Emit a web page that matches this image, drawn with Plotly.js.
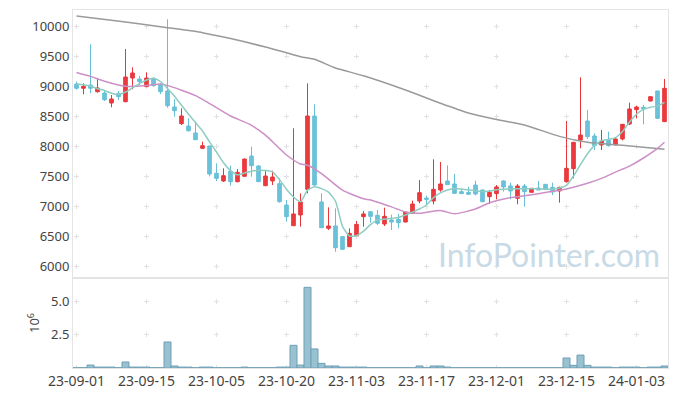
<!DOCTYPE html>
<html>
<head>
<meta charset="utf-8">
<script src="https://cdn.plot.ly/plotly-3.0.1.min.js"></script>
<style>html,body{margin:0;padding:0;background:#fff;}#chart{width:677px;height:396px;}</style>
</head>
<body>
<div id="chart"></div>
<script>
const dates = [
 '23-09-01','23-09-04','23-09-05','23-09-06','23-09-07','23-09-08','23-09-11','23-09-12','23-09-13','23-09-14',
 '23-09-15','23-09-18','23-09-19','23-09-20','23-09-21','23-09-22','23-09-25','23-09-26','23-09-27','23-10-04',
 '23-10-05','23-10-06','23-10-10','23-10-11','23-10-12','23-10-13','23-10-16','23-10-17','23-10-18','23-10-19',
 '23-10-20','23-10-23','23-10-24','23-10-25','23-10-26','23-10-27','23-10-30','23-10-31','23-11-01','23-11-02',
 '23-11-03','23-11-06','23-11-07','23-11-08','23-11-09','23-11-10','23-11-13','23-11-14','23-11-15','23-11-16',
 '23-11-17','23-11-20','23-11-21','23-11-22','23-11-23','23-11-24','23-11-27','23-11-28','23-11-29','23-11-30',
 '23-12-01','23-12-04','23-12-05','23-12-06','23-12-07','23-12-08','23-12-11','23-12-12','23-12-13','23-12-14',
 '23-12-15','23-12-18','23-12-19','23-12-20','23-12-21','23-12-22','23-12-26','23-12-27','23-12-28','24-01-02',
 '24-01-03','24-01-04','24-01-05','24-01-08','24-01-09'
];
const openP = [
 9033,8962,9017,8905,8883,8717,8872,8738,9133,9117,
 8989,9117,9017,8917,8650,8372,8333,8217,7961,8000,
 7545,7417,7583,7405,7495,7833,7667,7339,7417,7372,
 7017,6672,6850,7278,8500,7067,6628,6667,6489,6322,
 6505,6822,6905,6845,6700,6767,6778,6733,6878,7083,
 7133,7083,7267,7417,7367,7239,7228,7350,7267,7156,
 7206,7417,7333,7128,7333,7228,7300,7361,7311,7250,
 7405,7622,8100,8417,8167,8017,8094,8017,8117,8367,
 8606,8645,8750,8917,8406
];
const highP = [
 9072,9045,9695,9128,8917,8850,8917,9617,9312,9167,
 9228,9150,9050,10112,8783,8628,8461,8405,8072,8005,
 7711,7628,7672,7617,7790,7989,7680,7583,7589,7461,
 7100,8295,7211,9045,8695,7211,6978,6961,6495,6628,
 6750,6917,6910,6933,6972,6856,6867,6905,7089,7433,
 7172,7778,7733,7678,7533,7295,7322,7422,7272,7267,
 7350,7433,7389,7367,7367,7300,7417,7365,7389,7322,
 8417,8065,9145,8600,8211,8267,8239,8139,8361,8722,
 8672,8683,8822,8920,9117
];
const lowP = [
 8939,8862,8878,8889,8750,8645,8767,8730,8945,9005,
 8980,8989,8867,8638,8489,8350,8239,8100,7950,7495,
 7417,7400,7338,7395,7490,7489,7400,7330,7350,7055,
 6739,6667,6655,7211,7340,6630,6600,6239,6270,6320,
 6500,6655,6722,6683,6667,6600,6628,6728,6875,7045,
 7028,7028,7239,7350,7200,7200,7183,7178,7061,7033,
 7111,7239,7111,7028,6989,7225,7260,7275,7183,7055,
 7389,7461,7961,8117,7933,7933,7989,8015,8094,8350,
 8461,8361,8745,8450,8400
];
const closeP = [
 8962,8995,8962,8967,8772,8783,8822,9150,9217,9072,
 9133,9005,8905,8672,8589,8500,8255,8105,8005,7533,
 7461,7505,7405,7561,7783,7672,7405,7500,7483,7072,
 6822,6867,7067,8500,7350,6639,6667,6305,6278,6544,
 6694,6867,6828,6711,6828,6733,6722,6900,7033,7222,
 7111,7278,7367,7356,7211,7206,7195,7200,7072,7228,
 7317,7317,7250,7333,7239,7295,7267,7278,7233,7311,
 7628,8061,8183,8156,8006,8083,8006,8117,8361,8617,
 8650,8617,8822,8461,8961
];
// volume in millions of shares
const volume = [
 0.02,0.02,0.22,0.07,0.07,0.07,0.02,0.45,0.07,0.07,
 0.07,0.02,0.02,1.95,0.15,0.07,0.07,0.02,0.07,0.07,
 0.02,0.02,0.02,0.02,0.07,0.02,0.02,0.02,0.02,0.07,
 0.07,1.70,0.22,6.05,1.43,0.35,0.15,0.15,0.07,0.07,
 0.07,0.07,0.02,0.02,0.02,0.02,0.02,0.02,0.02,0.15,
 0.02,0.15,0.15,0.07,0.02,0.02,0.02,0.02,0.02,0.02,
 0.02,0.02,0.02,0.02,0.02,0.02,0.02,0.02,0.02,0.02,
 0.75,0.20,0.97,0.20,0.07,0.07,0.07,0.02,0.07,0.07,
 0.07,0.02,0.07,0.07,0.15
];
const ma5 = [
 9033,9020,9000,8955,8925,8880,8860,8900,8970,9040,
 9100,9130,9075,8960,8830,8680,8530,8390,8250,8070,
 7900,7720,7590,7520,7550,7580,7595,7590,7570,7440,
 7280,7150,7070,7265,7322,7290,7230,7080,6660,6500,
 6505,6580,6690,6765,6780,6795,6810,6850,6900,6950,
 7017,7140,7220,7267,7290,7280,7267,7255,7240,7250,
 7270,7280,7285,7289,7289,7289,7285,7280,7278,7300,
 7345,7500,7690,7870,8010,8090,8110,8140,8240,8400,
 8530,8610,8645,8665,8728
];
const ma20Idx = [0,2,4,7,10,12,13,15,17,18,21,22,25,27,30,32,33,35,38,41,42,45,47,49,52,54,57,59,62,64,67,70,73,75,77,79,81,83,84];
const ma20Val = [9225,9160,9080,8995,9008,9033,9010,8930,8840,8778,8570,8500,8345,8180,7850,7700,7680,7540,7265,7120,7100,6985,6900,6880,6925,6870,6950,7055,7140,7170,7225,7285,7378,7460,7565,7665,7800,7960,8062];
const ma120Idx = [0,7,13,18,22,27,32,34,37,41,47,52,56,60,64,69,73,78,84];
const ma120Val = [10167,10067,9972,9889,9790,9650,9489,9445,9300,9170,8933,8712,8550,8440,8350,8160,8061,8011,7945];
const tickIdx = [0,10,20,30,40,50,60,70,80];

const gridC = '#e2e2e2';
const lineC = '#e4e4e4';
const fontF = 'Noto Sans, Open Sans, sans-serif';
const txtC = '#444';

const traces = [
 {
  type: 'candlestick', x: dates, open: openP, high: highP, low: lowP, close: closeP,
  xaxis: 'x2', yaxis: 'y',
  increasing: {line: {color: '#e8363b', width: 1}, fillcolor: '#ec3a3f'},
  decreasing: {line: {color: '#66bfd7', width: 1}, fillcolor: '#6cc2d9'},
  hoverinfo: 'skip', showlegend: false
 },
 {
  type: 'scatter', mode: 'lines', x: ma120Idx.map(i => dates[i]), y: ma120Val,
  xaxis: 'x2', yaxis: 'y', line: {color: '#9a9a9a', width: 1.5, shape: 'spline', smoothing: 0.6},
  hoverinfo: 'skip', showlegend: false
 },
 {
  type: 'scatter', mode: 'lines', x: ma20Idx.map(i => dates[i]), y: ma20Val,
  xaxis: 'x2', yaxis: 'y', line: {color: '#cc8fc6', width: 1.5, shape: 'spline', smoothing: 0.6},
  hoverinfo: 'skip', showlegend: false
 },
 {
  type: 'scatter', mode: 'lines', x: dates, y: ma5,
  xaxis: 'x2', yaxis: 'y', line: {color: '#8ecdc2', width: 1.5, shape: 'spline', smoothing: 0.5},
  hoverinfo: 'skip', showlegend: false
 },
 {
  type: 'bar', x: dates, y: volume, xaxis: 'x', yaxis: 'y2',
  marker: {color: '#98c1d1', line: {color: '#6f9fb5', width: 1}},
  hoverinfo: 'skip', showlegend: false
 }
];

const mainDash = '0px,13.5px,5px,11.5px';
const volDash = '0px,20.83px,5px,7.5px';
const hDash = '0px,1px,5px,64px';

const layout = {
 width: 677, height: 396,
 margin: {l: 73, r: 9, t: 10, b: 28},
 paper_bgcolor: '#fff', plot_bgcolor: '#fff',
 bargap: 0, boxgap: 0.26,
 showlegend: false,
 font: {family: fontF, size: 13, color: txtC},
 xaxis: {
  type: 'category', categoryorder: 'array', categoryarray: dates,
  domain: [0, 1], anchor: 'y2', range: [-0.5, dates.length - 0.5],
  tickmode: 'array', tickvals: tickIdx.map(i => dates[i]), ticktext: tickIdx.map(i => dates[i]),
  showgrid: true, gridcolor: gridC, gridwidth: 1, griddash: volDash,
  showline: true, linecolor: lineC, mirror: true, ticks: '',
  tickfont: {family: fontF, size: 14, color: txtC},
  rangeslider: {visible: false}, fixedrange: true
 },
 xaxis2: {
  type: 'category', categoryorder: 'array', categoryarray: dates,
  domain: [0, 1], anchor: 'y', matches: 'x', range: [-0.5, dates.length - 0.5],
  tickmode: 'array', tickvals: tickIdx.map(i => dates[i]), showticklabels: false,
  showgrid: true, gridcolor: gridC, gridwidth: 1, griddash: mainDash,
  showline: true, linecolor: lineC, mirror: true, ticks: '',
  rangeslider: {visible: false}, fixedrange: true
 },
 yaxis: {
  domain: [0.2514, 1], anchor: 'x2', range: [5800, 10266.7],
  tick0: 0, dtick: 500, tickformat: 'd',
  showgrid: true, gridcolor: gridC, gridwidth: 1, griddash: hDash,
  zeroline: false, showline: true, linecolor: lineC, mirror: true, ticks: '',
  tickfont: {family: fontF, size: 13, color: txtC}, fixedrange: true
 },
 yaxis2: {
  domain: [0, 0.2514], anchor: 'x', range: [0, 6.75],
  tickmode: 'array', tickvals: [2.5, 5], ticktext: ['2.5', '5.0'],
  showgrid: true, gridcolor: gridC, gridwidth: 1, griddash: hDash,
  zeroline: false, showline: true, linecolor: lineC, mirror: true, ticks: '',
  tickfont: {family: fontF, size: 13, color: txtC},
  title: {text: '10<sup>6</sup>', font: {family: fontF, size: 13, color: txtC}, standoff: 8},
  fixedrange: true
 },
 annotations: [{
  text: 'InfoPointer.com', xref: 'paper', yref: 'paper',
  x: 0.99, y: 0.318, xanchor: 'right', yanchor: 'middle', showarrow: false,
  font: {family: 'Lato, Open Sans, sans-serif', size: 32, weight: 400, color: '#c8dae5'}
 }]
};

Plotly.newPlot('chart', traces, layout, {staticPlot: true, displayModeBar: false});
</script>
</body>
</html>
